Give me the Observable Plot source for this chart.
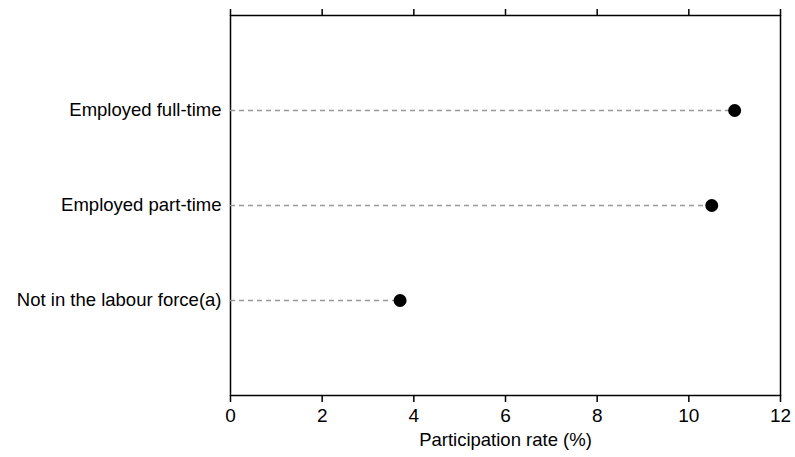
<!DOCTYPE html>
<html>
<head>
<meta charset="utf-8">
<script src="https://cdn.jsdelivr.net/npm/d3@7"></script>
<script src="https://cdn.jsdelivr.net/npm/@observablehq/plot@0.6"></script>
<style>
  html, body { margin: 0; padding: 0; background: #fff; }
  #chart svg { display: block; }
</style>
</head>
<body>
<div id="chart"></div>
<script>
const categories = ["Employed full-time", "Employed part-time", "Not in the labour force(a)"];
const rates = [11.0, 10.5, 3.7];
const xTicks = [0, 2, 4, 6, 8, 10, 12];

const data = categories.map((c, i) => ({category: c, rate: rates[i]}));

const chart = Plot.plot({
  width: 795,
  height: 457,
  marginLeft: 230,
  marginRight: 15,
  marginTop: 15,
  marginBottom: 62,
  style: {fontFamily: "'Liberation Sans', Arial, sans-serif", color: "#000", background: "#fff"},
  x: {domain: [0, 12]},
  y: {type: "point", domain: categories, padding: 1},
  marks: [
    Plot.frame({stroke: "#000", strokeWidth: 1.5}),
    Plot.ruleY(data, {y: "category", x1: 0, x2: "rate", stroke: "#999", strokeDasharray: "5,4", strokeWidth: 1.5}),
    Plot.dot(data, {x: "rate", y: "category", r: 6.5, fill: "#000", stroke: "none"}),
    Plot.axisX(xTicks, {anchor: "top", tickSize: 7, tickFormat: () => "", strokeWidth: 1.5, label: null}),
    Plot.axisX(xTicks, {anchor: "bottom", tickSize: 7, tickPadding: 6, fontSize: 19, strokeWidth: 1.5, label: null}),
    Plot.axisY({tickSize: 0, tickPadding: 9, fontSize: 18.5, label: null}),
    Plot.text(["Participation rate (%)"], {frameAnchor: "bottom", dy: 50, fontSize: 18.5})
  ]
});
document.getElementById("chart").append(chart);
</script>
</body>
</html>
